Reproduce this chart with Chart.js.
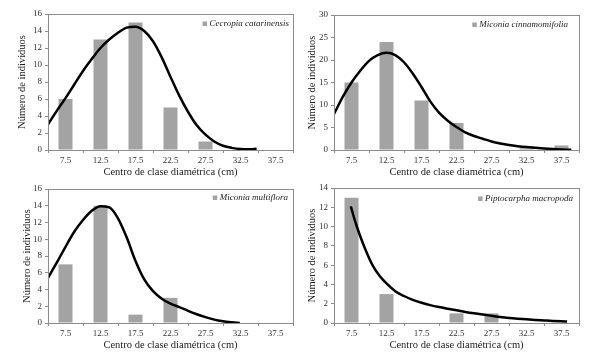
<!DOCTYPE html>
<html>
<head>
<meta charset="utf-8">
<script src="https://cdn.jsdelivr.net/npm/chart.js@4.4.1/dist/chart.umd.min.js"></script>
<style>
	body { margin: 0; background: #fff; }
	#wrap { position: relative; width: 589px; height: 353px; overflow: hidden; }
	canvas { position: absolute; }
</style>
</head>
<body>
<div id="wrap">
	<canvas id="c1" width="295" height="180" style="left:0;top:0"></canvas>
	<canvas id="c2" width="294" height="180" style="left:295px;top:0"></canvas>
	<canvas id="c3" width="295" height="178" style="left:0;top:175px"></canvas>
	<canvas id="c4" width="294" height="178" style="left:295px;top:175px"></canvas>
</div>
<script>
// diameter class centres (cm)
const classLabels = ["7.5", "12.5", "17.5", "22.5", "27.5", "32.5", "37.5"];

// Cecropia catarinensis
const cecropiaBars = [6, 13, 15, 5, 1, 0, 0];
const cecropiaCurveX = [5, 6.25, 7.5, 8.75, 10, 11.25, 12.5, 13.75, 15, 16.25, 17.5, 18.75, 20, 21.25, 22.5, 23.75, 25, 26.25, 27.5, 28.75, 30, 31.25, 32.5, 33.75, 34.8];
const cecropiaCurveY = [3.0, 4.6, 6.1, 7.7, 9.3, 10.7, 12.0, 13.0, 13.8, 14.4, 14.5, 14.0, 12.8, 10.9, 8.6, 6.4, 4.5, 2.9, 1.8, 1.0, 0.5, 0.25, 0.12, 0.1, 0.15];

// Miconia cinnamomifolia
const cinnamBars = [15, 24, 11, 6, 0, 0.4, 1];
const cinnamCurveX = [5, 6.25, 7.5, 8.75, 10, 11.25, 12.5, 13.75, 15, 16.25, 17.5, 18.75, 20, 21.25, 22.5, 23.75, 25, 26.25, 27.5, 28.75, 30, 31.25, 32.5, 33.75, 35, 36.25, 37.5, 38.9];
const cinnamCurveY = [8.0, 11.8, 15.0, 17.6, 19.8, 21.1, 21.6, 21.1, 19.5, 17.0, 14.0, 10.8, 8.3, 6.5, 5.1, 3.9, 3.1, 2.5, 1.9, 1.45, 1.1, 0.85, 0.65, 0.5, 0.35, 0.22, 0.12, 0.05];

// Miconia multiflora
const multiBars = [7, 14, 1, 3, 0, 0, 0];
const multiCurveX = [5, 6.25, 7.5, 8.75, 10, 11.25, 12.5, 13.75, 15, 16.25, 17.5, 18.75, 20, 21.25, 22.5, 23.75, 25, 26.25, 27.5, 28.75, 30, 31.25, 32.4];
const multiCurveY = [5.4, 7.2, 9.1, 10.9, 12.3, 13.4, 13.95, 13.8, 12.5, 10.2, 7.4, 5.2, 3.8, 2.9, 2.3, 1.9, 1.45, 1.05, 0.7, 0.4, 0.2, 0.08, 0];

// Piptocarpha macropoda
const piptoBars = [13, 3, 0, 1, 1, 0, 0];
const piptoCurveX = [7.4, 8, 8.75, 9.5, 10.5, 11.5, 12.5, 13.75, 15, 16.25, 17.5, 18.75, 20, 21.25, 22.5, 23.75, 25, 26.25, 27.5, 28.75, 30, 31.25, 32.5, 33.75, 35, 36.25, 37.5, 38.3];
const piptoCurveY = [12.1, 10.6, 9.0, 7.6, 6.0, 4.9, 4.1, 3.3, 2.8, 2.4, 2.1, 1.85, 1.65, 1.48, 1.32, 1.15, 1.0, 0.87, 0.75, 0.63, 0.53, 0.45, 0.38, 0.32, 0.27, 0.22, 0.18, 0.16];

const FONT = "'Liberation Serif', 'Times New Roman', serif";
const AXIS = "#8c8c8c";
const BAR = "#a3a3a3";

// plot-area frame (top and right edges like the original)
const frame = {
	id: "frame",
	afterDraw(chart) {
		const { ctx, chartArea: a } = chart;
		ctx.save();
		ctx.strokeStyle = AXIS;
		ctx.lineWidth = 1;
		ctx.strokeRect(Math.round(a.left) + 0.5, Math.round(a.top) + 0.5, Math.round(a.right - a.left), Math.round(a.bottom - a.top));
		ctx.restore();
	},
};

// small legend inside the top right corner of the plot area
const innerLegend = {
	id: "innerLegend",
	afterDraw(chart, args, opts) {
		const { ctx, chartArea: a } = chart;
		const ds = chart.data.datasets[0];
		ctx.save();
		ctx.font = "italic 9px " + FONT;
		ctx.textBaseline = "middle";
		ctx.fillStyle = "#222";
		let w = ctx.measureText(ds.label).width;
		let tx = a.right - opts.gap - w;
		let ty = a.top + opts.dy;
		ctx.fillText(ds.label, tx, ty);
		ctx.fillStyle = ds.backgroundColor;
		ctx.fillRect(tx - 7, ty - 2.5, 4.5, 4.5);
		ctx.restore();
	},
};

function makeChart(id, name, bars, cx, cy, yMax, yStep, lay) {
	let ctx = document.getElementById(id).getContext("2d");
	let curve = cx.map((x, i) => ({ x: x, y: cy[i] }));

	return new Chart(ctx, {
		type: "bar",
		data: {
			labels: classLabels,
			datasets: [
				{
					label: name,
					data: bars,
					backgroundColor: BAR,
					barPercentage: 0.4,
					categoryPercentage: 1,
					grouped: false,
					xAxisID: "x",
					order: 2,
				},
				{
					type: "line",
					label: "ajuste",
					data: curve,
					xAxisID: "x2",
					borderColor: "#000",
					borderWidth: 2.5,
					pointRadius: 0,
					tension: 0.4,
					cubicInterpolationMode: "monotone",
					fill: false,
					order: 1,
				},
			],
		},
		options: {
			responsive: false,
			animation: false,
			layout: {
				padding: { left: lay.pl, right: lay.pr, top: lay.pt, bottom: 0 },
			},
			scales: {
				x: {
					type: "category",
					offset: true,
					grid: { display: true, drawOnChartArea: false, offset: true, tickLength: 3, color: AXIS },
					border: { color: AXIS },
					ticks: { font: { family: FONT, size: 9 }, color: "#333", padding: 2, maxRotation: 0 },
					title: {
						display: true,
						text: "Centro de clase diamétrica (cm)",
						font: { family: FONT, size: 10.5 },
						color: "#222",
						padding: { top: 0, bottom: lay.tb },
					},
					afterFit: (s) => { s.height = lay.xh; },
				},
				x2: {
					type: "linear",
					display: false,
					min: 5,
					max: 40,
					offset: false,
				},
				y: {
					min: 0,
					max: yMax,
					grid: { display: true, drawOnChartArea: false, tickLength: 3, color: AXIS },
					border: { color: AXIS },
					ticks: { stepSize: yStep, font: { family: FONT, size: 9 }, color: "#333", padding: 3 },
					title: {
						display: true,
						text: "Número de individuos",
						font: { family: FONT, size: 10.5 },
						color: "#222",
						padding: { top: 0, bottom: 0 },
					},
					afterFit: (s) => { s.width = lay.yw; },
				},
			},
			plugins: {
				legend: { display: false },
				tooltip: { enabled: false },
				innerLegend: { gap: lay.lg, dy: lay.ly },
			},
		},
		plugins: [frame, innerLegend],
	});
}

makeChart("c1", "Cecropia catarinensis", cecropiaBars, cecropiaCurveX, cecropiaCurveY, 16, 2,
	{ pl: 16, yw: 32, pr: 2, pt: 14, xh: 30, tb: 1, lg: 4, ly: 10 });
makeChart("c2", "Miconia cinnamomifolia", cinnamBars, cinnamCurveX, cinnamCurveY, 30, 5,
	{ pl: 11, yw: 28, pr: 10, pt: 15, xh: 30, tb: 1, lg: 11, ly: 10 });
makeChart("c3", "Miconia multiflora", multiBars, multiCurveX, multiCurveY, 16, 2,
	{ pl: 21, yw: 27, pr: 2, pt: 14, xh: 30, tb: 1, lg: 5, ly: 9 });
makeChart("c4", "Piptocarpha macropoda", piptoBars, piptoCurveX, piptoCurveY, 14, 2,
	{ pl: 11, yw: 28, pr: 10, pt: 13, xh: 30, tb: 1, lg: 6, ly: 11 });
</script>
</body>
</html>
